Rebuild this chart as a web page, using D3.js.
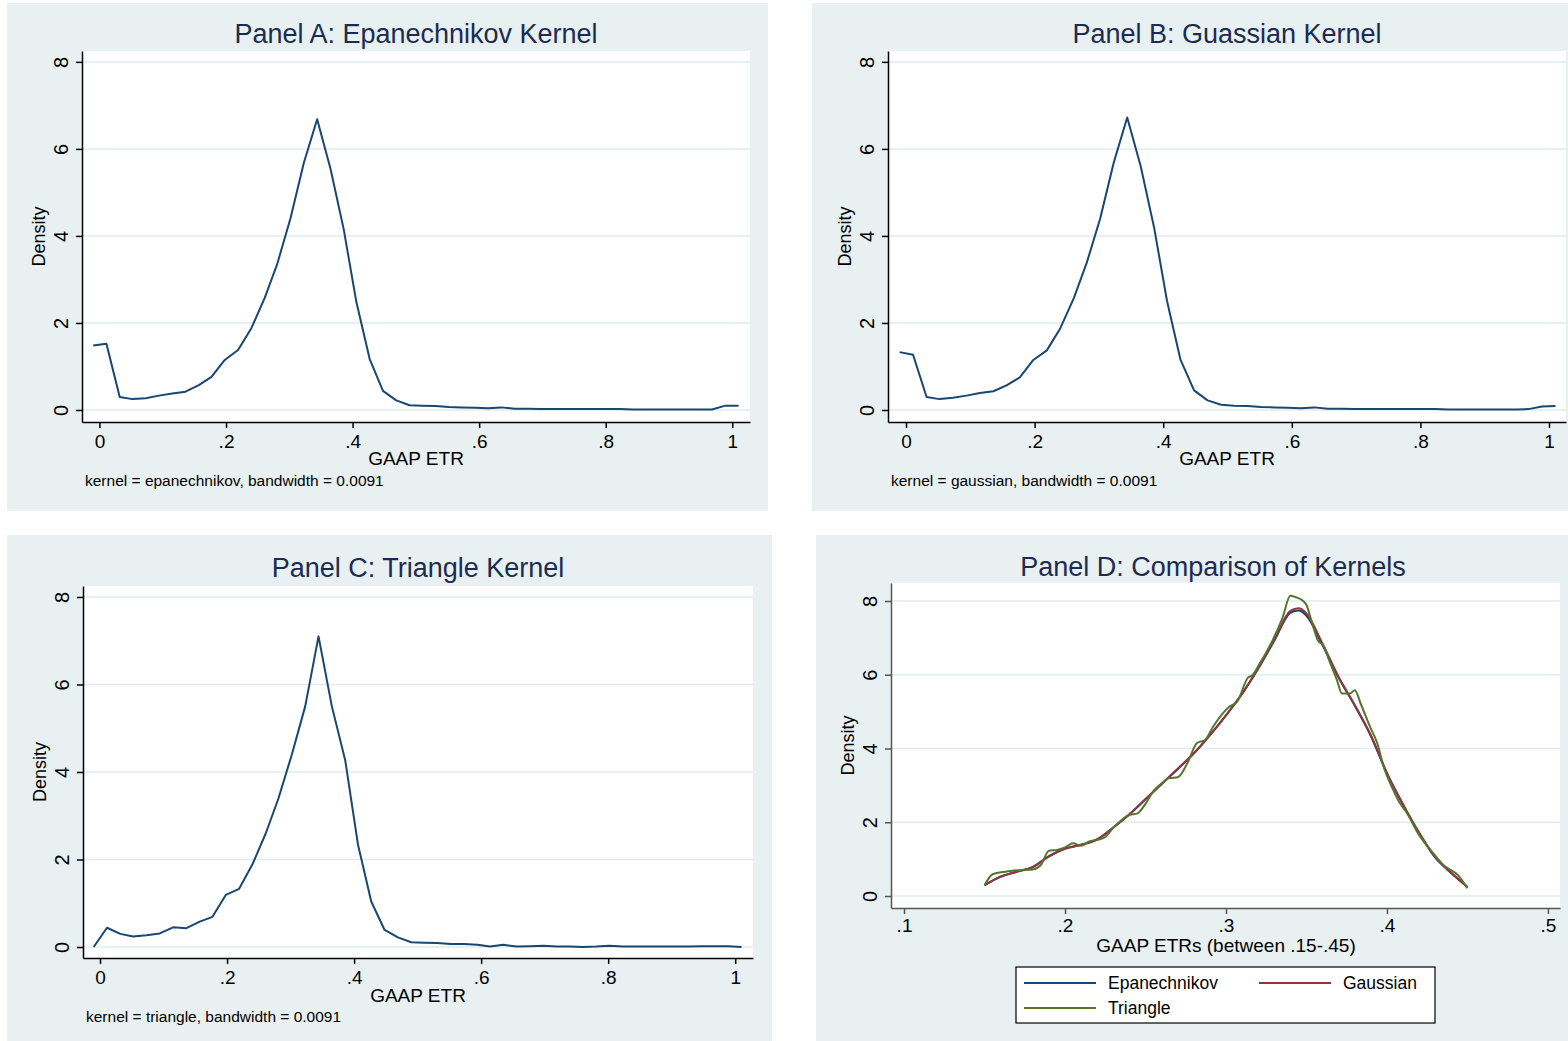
<!DOCTYPE html>
<html>
<head>
<meta charset="utf-8">
<script src="https://cdn.jsdelivr.net/npm/d3@7"></script>
<style>
  body { margin: 0; background: #fff; }
  svg text { font-family: "Liberation Sans", Arial, sans-serif; }
</style>
</head>
<body>
<div class="container"></div>
<script>
// evaluation grid used by panels A-C (stata default n=50)
var gridX = [-0.010,0.011,0.032,0.052,0.073,0.094,0.115,0.136,0.157,0.177,
  0.198,0.219,0.240,0.261,0.281,0.302,0.323,0.344,0.365,0.386,
  0.406,0.427,0.448,0.469,0.490,0.510,0.531,0.552,0.573,0.594,
  0.614,0.635,0.656,0.677,0.698,0.719,0.739,0.760,0.781,0.802,
  0.823,0.843,0.864,0.885,0.906,0.927,0.948,0.968,0.989,1.010];

var epanA = [1.48,1.52,0.30,0.25,0.27,0.33,0.38,0.42,0.57,0.76,
  1.15,1.38,1.88,2.57,3.36,4.41,5.68,6.68,5.55,4.15,
  2.48,1.17,0.44,0.22,0.11,0.10,0.09,0.07,0.06,0.05,
  0.04,0.06,0.03,0.03,0.02,0.02,0.02,0.02,0.02,0.02,
  0.02,0.01,0.01,0.01,0.01,0.01,0.01,0.01,0.10,0.10];

var gaussB = [1.33,1.27,0.30,0.25,0.28,0.33,0.39,0.43,0.57,0.75,
  1.15,1.37,1.88,2.57,3.38,4.40,5.68,6.72,5.60,4.18,
  2.50,1.15,0.45,0.22,0.12,0.10,0.09,0.07,0.06,0.05,
  0.04,0.06,0.03,0.03,0.02,0.02,0.02,0.02,0.02,0.02,
  0.02,0.01,0.01,0.01,0.01,0.01,0.01,0.02,0.08,0.09];

var triC = [0.00,0.44,0.30,0.24,0.27,0.31,0.45,0.43,0.58,0.69,
  1.19,1.33,1.89,2.60,3.40,4.40,5.50,7.10,5.50,4.27,
  2.35,1.04,0.39,0.22,0.11,0.10,0.09,0.07,0.07,0.05,
  0.01,0.05,0.01,0.02,0.03,0.01,0.01,0.00,0.01,0.03,
  0.01,0.01,0.01,0.01,0.01,0.01,0.02,0.02,0.02,0.00];

// panel D: restricted sample .15-.45
var compX = [0.15,0.16,0.17,0.18,0.19,0.20,0.21,0.22,0.23,0.24,0.25,0.26,0.27,0.28,0.29,0.30,
  0.31,0.32,0.33,0.34,0.345,0.35,0.36,0.37,0.38,0.39,0.40,0.41,0.42,0.43,0.44,0.45];
var compEpan = [0.29,0.53,0.66,0.79,1.08,1.29,1.39,1.53,1.86,2.22,2.63,3.04,3.44,3.86,4.36,4.90,
  5.48,6.16,6.92,7.68,7.74,7.60,6.80,5.92,5.16,4.34,3.32,2.47,1.70,1.04,0.62,0.25];
var compGauss = [0.30,0.52,0.66,0.78,1.07,1.28,1.39,1.54,1.86,2.21,2.62,3.04,3.45,3.87,4.36,4.90,
  5.49,6.18,6.95,7.73,7.80,7.66,6.84,5.94,5.18,4.36,3.34,2.49,1.72,1.06,0.63,0.24];
var triX = [0.150,0.155,0.163,0.172,0.180,0.185,0.190,0.195,0.200,0.205,0.210,0.215,0.220,0.225,
  0.230,0.240,0.245,0.250,0.255,0.260,0.265,0.270,0.276,0.282,0.287,0.292,0.302,0.307,0.314,
  0.316,0.321,0.329,0.335,0.340,0.343,0.348,0.350,0.353,0.357,0.361,0.364,0.369,0.372,0.377,
  0.380,0.384,0.390,0.394,0.398,0.403,0.408,0.412,0.420,0.428,0.435,0.444,0.450];
var triY = [0.29,0.59,0.66,0.70,0.72,0.84,1.23,1.25,1.32,1.43,1.36,1.48,1.52,1.60,
  1.85,2.20,2.24,2.50,2.85,3.05,3.20,3.22,3.60,4.15,4.23,4.59,5.13,5.27,5.94,
  5.97,6.31,6.94,7.53,8.14,8.11,8.00,7.89,7.48,6.94,6.76,6.40,5.85,5.49,5.49,
  5.58,5.18,4.54,4.14,3.50,2.96,2.52,2.28,1.65,1.20,0.84,0.57,0.21];

var yTicks = [0,2,4,6,8];
var xTicksFull = [0,0.2,0.4,0.6,0.8,1];
var xTicksComp = [0.1,0.2,0.3,0.4,0.5];

const WIDTH = 1568;
const HEIGHT = 1041;
const BG = "#e8f0f2";
const GRID = "#e2ebee";
const TITLE_COLOR = "#1c2b50";
const NAVY = "#1a476f";
const MAROON = "#90353b";
const GREEN = "#55752f";

var translate = function(x, y){
  return "translate("+x+","+y+")";
};

var stataFmt = function(v){
  return String(+v.toFixed(2)).replace(/^0\./, ".");
};

var zip = function(xs, ys){
  return xs.map(function(x, i){ return {x: x, y: ys[i]}; });
};

var svg = d3.select('.container').append('svg')
  .attr("width", WIDTH)
  .attr("height", HEIGHT);

var drawPanel = function(p){
  var g = svg.append('g');

  g.append('rect')
    .attr('x', p.bg[0]).attr('y', p.bg[1])
    .attr('width', p.bg[2]).attr('height', p.bg[3])
    .attr('fill', BG);

  g.append('rect')
    .attr('x', p.left).attr('y', p.top)
    .attr('width', p.right - p.left).attr('height', p.bottom - p.top)
    .attr('fill', '#fff');

  var x = d3.scaleLinear().domain(p.xDomain).range([p.left, p.right]);
  var y = d3.scaleLinear().domain(p.yDomain).range([p.bottom, p.top]);

  // horizontal grid
  g.selectAll('line.grid').data(yTicks)
    .enter().append('line')
    .attr('x1', p.left).attr('x2', p.right)
    .attr('y1', function(d){ return y(d); })
    .attr('y2', function(d){ return y(d); })
    .attr('stroke', GRID).attr('stroke-width', 1.5);

  // y axis with rotated labels
  var yAxis = d3.axisLeft(y).tickValues(yTicks).tickSize(6).tickSizeOuter(0).tickFormat(stataFmt);
  var ya = g.append('g').attr('transform', translate(p.left, 0)).call(yAxis);
  ya.selectAll('text')
    .attr('transform', 'rotate(-90)')
    .attr('x', 0).attr('y', -14).attr('dy', null)
    .attr('text-anchor', 'middle')
    .attr('font-size', 20).attr('fill', '#000');

  var xAxis = d3.axisBottom(x).tickValues(p.xTicks).tickSize(6).tickSizeOuter(0).tickFormat(stataFmt);
  var xa = g.append('g').attr('transform', translate(0, p.bottom)).call(xAxis);
  xa.selectAll('text')
    .attr('y', p.tickDy || 26).attr('dy', null)
    .attr('font-size', 19).attr('fill', '#000');

  [ya, xa].forEach(function(a){
    a.select('.domain').attr('stroke', p.axisColor).attr('stroke-width', 1.5);
    a.selectAll('.tick line').attr('stroke', p.axisColor).attr('stroke-width', 1.5);
  });

  // titles
  g.append('text')
    .attr('x', p.titleX).attr('y', p.titleY)
    .attr('text-anchor', 'middle')
    .attr('font-size', 27).attr('fill', TITLE_COLOR)
    .text(p.title);

  g.append('text')
    .attr('x', p.xLabelX).attr('y', p.bottom + p.xLabelDy)
    .attr('text-anchor', 'middle')
    .attr('font-size', 19)
    .text(p.xLabel);

  g.append('text')
    .attr('transform', translate(p.left - 37, (p.top + p.bottom) / 2) + ' rotate(-90)')
    .attr('text-anchor', 'middle')
    .attr('font-size', 18)
    .text('Density');

  if (p.note) {
    g.append('text')
      .attr('x', p.left + 3).attr('y', p.bottom + 64)
      .attr('font-size', 15.5)
      .text(p.note);
  }

  var line = d3.line()
    .x(function(d){ return x(d.x); })
    .y(function(d){ return y(d.y); })
    .curve(p.curve || d3.curveLinear);

  p.series.forEach(function(s){
    g.append('path')
      .datum(s.data)
      .attr('d', line)
      .attr('fill', 'none')
      .attr('stroke', s.color)
      .attr('stroke-width', 2)
      .attr('stroke-linejoin', 'round');
  });

  return g;
};

drawPanel({
  bg: [7, 3, 761, 508], left: 82, right: 750, top: 51, bottom: 422,
  xDomain: [-0.0276, 1.028], yDomain: [-0.276, 8.25], xTicks: xTicksFull,
  axisColor: '#000', title: 'Panel A: Epanechnikov Kernel', titleX: 416, titleY: 43,
  xLabel: 'GAAP ETR', xLabelX: 416, xLabelDy: 43,
  note: 'kernel = epanechnikov, bandwidth = 0.0091',
  series: [{data: zip(gridX, epanA), color: NAVY}]
});

drawPanel({
  bg: [812, 3, 756, 508], left: 888, right: 1566, top: 51, bottom: 422,
  xDomain: [-0.028, 1.0264], yDomain: [-0.276, 8.25], xTicks: xTicksFull,
  axisColor: '#000', title: 'Panel B: Guassian Kernel', titleX: 1227, titleY: 43,
  xLabel: 'GAAP ETR', xLabelX: 1227, xLabelDy: 43,
  note: 'kernel = gaussian, bandwidth = 0.0091',
  series: [{data: zip(gridX, gaussB), color: NAVY}]
});

drawPanel({
  bg: [7, 535, 765, 506], left: 83, right: 753, top: 586, bottom: 958,
  xDomain: [-0.0268, 1.028], yDomain: [-0.251, 8.251], xTicks: xTicksFull,
  axisColor: '#000', title: 'Panel C: Triangle Kernel', titleX: 418, titleY: 577,
  xLabel: 'GAAP ETR', xLabelX: 418, xLabelDy: 44,
  note: 'kernel = triangle, bandwidth = 0.0091',
  series: [{data: zip(gridX, triC), color: NAVY}]
});

var panelD = drawPanel({
  bg: [816, 535, 752, 506], left: 891, right: 1560, top: 583, bottom: 908,
  xDomain: [0.0919, 0.5075], yDomain: [-0.325, 8.488], xTicks: xTicksComp,
  axisColor: '#555', title: 'Panel D: Comparison of Kernels', titleX: 1213, titleY: 576,
  xLabel: 'GAAP ETRs (between .15-.45)', xLabelX: 1226, xLabelDy: 44, tickDy: 24,
  curve: d3.curveMonotoneX,
  series: [
    {data: zip(compX, compEpan), color: NAVY},
    {data: zip(compX, compGauss), color: MAROON},
    {data: zip(triX, triY), color: GREEN}
  ]
});

// legend for panel D
var legendItems = [
  {label: 'Epanechnikov', color: NAVY, lx: 1024, ly: 983},
  {label: 'Gaussian', color: MAROON, lx: 1259, ly: 983},
  {label: 'Triangle', color: GREEN, lx: 1024, ly: 1008}
];

panelD.append('rect')
  .attr('x', 1016).attr('y', 967).attr('width', 419).attr('height', 56)
  .attr('fill', '#fff').attr('stroke', '#000').attr('stroke-width', 1.2);

var li = panelD.selectAll('g.legend').data(legendItems)
  .enter().append('g')
  .attr('transform', function(d){ return translate(d.lx, d.ly); });
li.append('line')
  .attr('x1', 0).attr('x2', 72).attr('y1', 0).attr('y2', 0)
  .attr('stroke', function(d){ return d.color; }).attr('stroke-width', 2);
li.append('text')
  .attr('x', 84).attr('y', 6)
  .attr('font-size', 17.5)
  .text(function(d){ return d.label; });
</script>
</body>
</html>
